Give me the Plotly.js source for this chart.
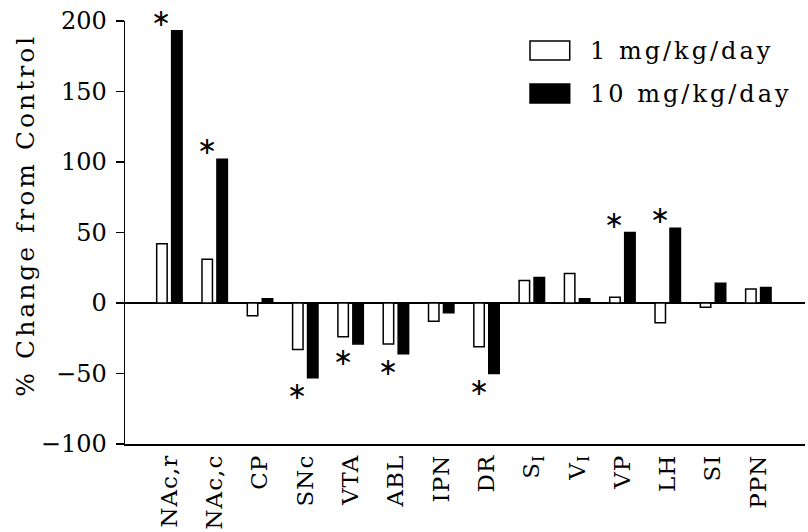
<!DOCTYPE html>
<html>
<head>
<meta charset="utf-8">
<script src="https://cdn.plot.ly/plotly-3.0.1.min.js"></script>
<style>
html,body{margin:0;padding:0;background:#fff;}
#chart{width:808px;height:532px;}
#chart .xtick text{letter-spacing:1px;}
#chart .annotation.wide .annotation-text{letter-spacing:3px;}
</style>
</head>
<body>
<div id="chart"></div>
<script>
// Data
var categories = ['NAc,r','NAc,c','CP','SNc','VTA','ABL','IPN','DR','S<sub>I</sub>','V<sub>I</sub>','VP','LH','SI','PPN'];
var dose1 = [42, 31, -9, -33, -24, -29, -13, -31, 16, 21, 4, -14, -3, 10];
var dose10 = [193, 102, 3, -53, -29, -36, -7, -50, 18, 3, 50, 53, 14, 11];
var seriesNames = ['1 mg/kg/day', '10 mg/kg/day'];
var sigCategories = ['NAc,r','NAc,c','SNc','VTA','ABL','DR','VP','LH'];
var yTicks = [-100, -50, 0, 50, 100, 150, 200];
var yTitle = '% Change from Control';

var FONT = 'DejaVu Serif, Liberation Serif, serif';

var traces = [
  {type:'bar', x:categories, y:dose1, name:seriesNames[0],
   marker:{color:'#ffffff', line:{color:'#000', width:1.5}}, showlegend:false},
  {type:'bar', x:categories, y:dose10, name:seriesNames[1],
   marker:{color:'#000000', line:{color:'#000', width:1.5}}, showlegend:false}
];

var annotations = sigCategories.map(function(c){
  var v = dose10[categories.indexOf(c)];
  return {xref:'x', yref:'y', x:c, y:v, text:'\u2217', showarrow:false,
          xshift:-8, yshift:(v >= 0 ? 13 : -13), yanchor:'middle',
          font:{family:'DejaVu Sans', size:24, color:'#000'}};
});
var nStars = annotations.length;
annotations.push({xref:'paper', yref:'paper', x:-0.147, y:0.541, text:yTitle, textangle:-90,
  showarrow:false, xanchor:'center', yanchor:'middle', font:{family:FONT, size:25, color:'#000'}});
annotations.push({xref:'paper', yref:'paper', x:0.681, y:0.929, text:seriesNames[0], showarrow:false,
  xanchor:'left', yanchor:'middle', width:230, align:'left', font:{family:FONT, size:24, color:'#000'}});
annotations.push({xref:'paper', yref:'paper', x:0.681, y:0.827, text:seriesNames[1], showarrow:false,
  xanchor:'left', yanchor:'middle', width:230, align:'left', font:{family:FONT, size:24, color:'#000'}});

var shapes = [
  {type:'rect', xref:'paper', yref:'paper', x0:0.5956, x1:0.654, y0:0.908, y1:0.953,
   fillcolor:'#fff', line:{color:'#000', width:1.5}},
  {type:'rect', xref:'paper', yref:'paper', x0:0.5956, x1:0.654, y0:0.806, y1:0.851,
   fillcolor:'#000', line:{color:'#000', width:1.5}}
];

var layout = {
  width:808, height:532,
  margin:{l:125, r:3, t:21, b:88},
  paper_bgcolor:'#fff', plot_bgcolor:'#fff',
  barmode:'group', bargap:0.34, bargroupgap:0.3,
  font:{family:FONT, color:'#000'},
  xaxis:{type:'category', range:[-0.98, 14.03], showline:true, linecolor:'#000', linewidth:1.5,
         ticks:'', tickangle:-90, tickfont:{family:FONT, size:23, color:'#000'},
         showgrid:false, zeroline:false, fixedrange:true},
  yaxis:{range:[-100, 200], tickvals:yTicks, ticks:'outside', ticklen:8, tickwidth:1.5, tickcolor:'#000',
         ticklabelstandoff:4,
         showline:true, linecolor:'#000', linewidth:1.5, showgrid:false,
         zeroline:true, zerolinecolor:'#000', zerolinewidth:1.5,
         tickfont:{family:FONT, size:24, color:'#000'}, fixedrange:true},
  annotations:annotations,
  shapes:shapes
};

Plotly.newPlot('chart', traces, layout, {displayModeBar:false, staticPlot:true}).then(function(){
  var nodes = document.querySelectorAll('#chart .annotation');
  for (var i = nStars; i < nodes.length; i++) nodes[i].classList.add('wide');
});
</script>
</body>
</html>
